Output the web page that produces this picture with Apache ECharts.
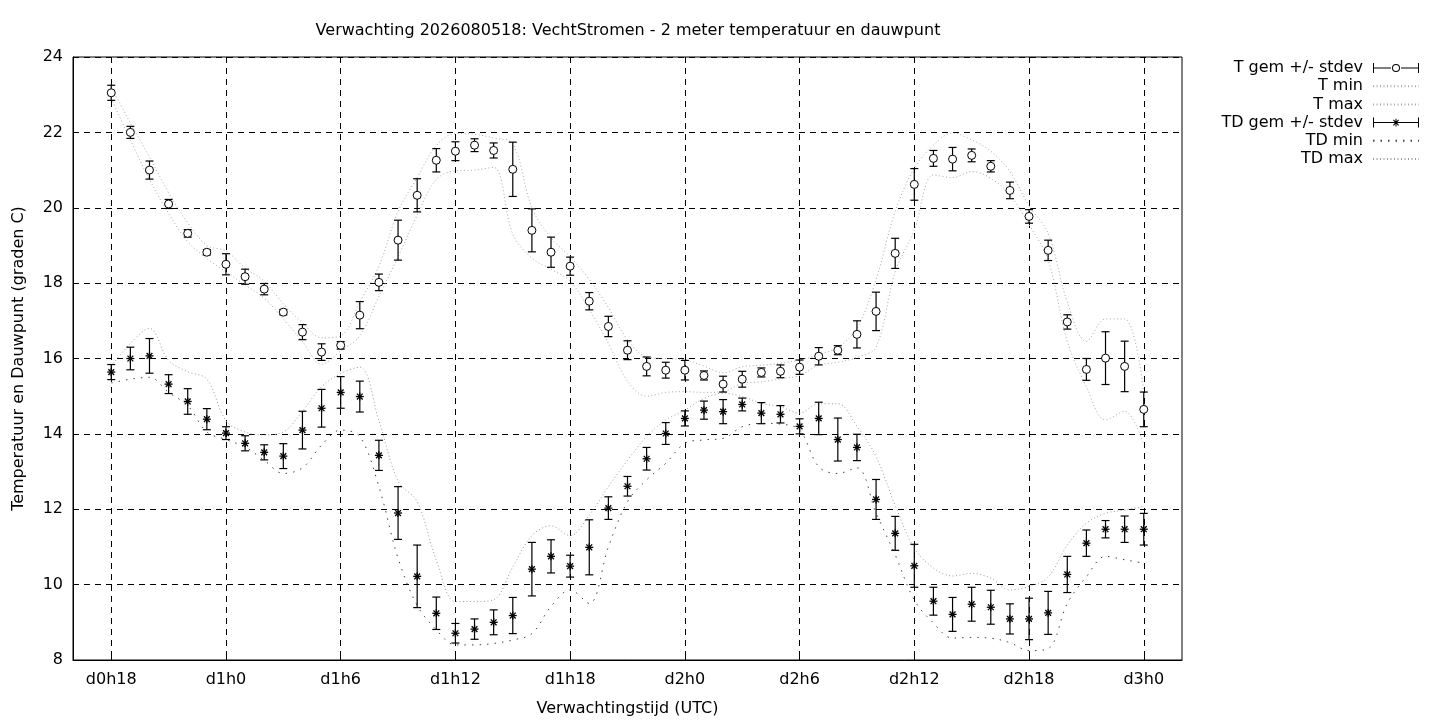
<!DOCTYPE html>
<html>
<head>
<meta charset="utf-8">
<script src="https://cdn.jsdelivr.net/npm/echarts@6/dist/echarts.min.js"></script>
<style>
html,body{margin:0;padding:0;background:#fff;}
#chart{width:1440px;height:720px;}
</style>
</head>
<body>
<div id="chart"></div>
<script>
// ---- data ----
const times = ['d0h18','d0h19','d0h20','d0h21','d0h22','d0h23',
  'd1h0','d1h1','d1h2','d1h3','d1h4','d1h5','d1h6','d1h7','d1h8','d1h9','d1h10','d1h11',
  'd1h12','d1h13','d1h14','d1h15','d1h16','d1h17','d1h18','d1h19','d1h20','d1h21','d1h22','d1h23',
  'd2h0','d2h1','d2h2','d2h3','d2h4','d2h5','d2h6','d2h7','d2h8','d2h9','d2h10','d2h11',
  'd2h12','d2h13','d2h14','d2h15','d2h16','d2h17','d2h18','d2h19','d2h20','d2h21','d2h22','d2h23',
  'd3h0'];
const tickLabels = ['d0h18','d1h0','d1h6','d1h12','d1h18','d2h0','d2h6','d2h12','d2h18','d3h0'];

const T_mean = [23.05,22.0,21.0,20.1,19.32,18.82,18.5,18.17,17.84,17.23,16.7,16.17,16.35,17.15,18.02,19.14,20.33,21.26,21.5,21.66,21.52,21.02,19.4,18.82,18.45,17.52,16.85,16.22,15.79,15.69,15.69,15.55,15.32,15.45,15.63,15.66,15.77,16.06,16.22,16.64,17.25,18.79,20.62,21.31,21.29,21.39,21.10,20.46,19.77,18.87,16.97,15.71,16.01,15.79,14.65];
const T_std = [0.2,0.16,0.24,0.12,0.1,0.07,0.28,0.2,0.15,0.07,0.2,0.22,0.1,0.36,0.22,0.53,0.44,0.31,0.25,0.17,0.2,0.72,0.57,0.4,0.24,0.23,0.27,0.25,0.25,0.21,0.26,0.12,0.21,0.21,0.12,0.17,0.19,0.23,0.12,0.36,0.51,0.4,0.42,0.21,0.31,0.17,0.15,0.22,0.18,0.27,0.19,0.29,0.7,0.67,0.46];
const T_min = [22.9,21.8,20.75,19.85,19.1,18.65,18.3,17.95,17.6,17.05,16.45,15.85,16.2,16.6,17.65,18.7,19.8,20.75,20.98,21.0,21.07,19.3,18.66,18.37,18.05,17.3,16.4,15.4,15.0,15.1,15.12,15.1,15.12,15.34,15.38,15.46,15.55,15.82,15.9,16.03,16.3,18.3,19.4,20.87,20.8,20.96,20.78,20.34,19.55,18.61,16.45,15.25,14.37,14.6,13.7];
const T_max = [23.2,22.25,21.35,20.4,19.6,19.0,18.85,18.4,18.05,17.45,16.95,16.55,16.6,17.5,18.45,19.9,20.8,21.65,21.97,21.95,21.85,21.7,20.0,19.2,18.7,18.1,17.35,16.5,16.04,16.0,15.96,15.8,15.62,15.78,15.82,15.87,15.96,16.1,16.3,16.8,18.1,19.9,21.05,21.66,21.98,21.8,21.5,20.96,20.05,19.32,17.5,16.45,17.05,17.05,15.1];

const TD_mean = [15.64,16.0,16.07,15.32,14.86,14.39,14.02,13.75,13.51,13.41,14.1,14.68,15.1,14.99,13.43,11.9,10.22,9.24,8.71,8.82,9.0,9.18,10.41,10.75,10.49,10.99,12.03,12.61,13.34,14.01,14.41,14.63,14.59,14.78,14.55,14.52,14.2,14.41,13.85,13.64,12.26,11.36,10.5,9.56,9.21,9.48,9.40,9.09,9.09,9.25,10.27,11.10,11.47,11.47,11.47];
const TD_std = [0.2,0.3,0.46,0.25,0.34,0.28,0.17,0.2,0.2,0.33,0.5,0.5,0.42,0.41,0.4,0.7,0.83,0.43,0.26,0.27,0.33,0.48,0.71,0.44,0.29,0.73,0.3,0.26,0.3,0.29,0.2,0.24,0.32,0.17,0.28,0.23,0.2,0.43,0.57,0.35,0.53,0.45,0.57,0.37,0.45,0.45,0.45,0.4,0.55,0.57,0.48,0.35,0.23,0.35,0.42];
const TD_min = [15.35,15.45,15.5,15.1,14.75,14.05,13.85,13.65,13.3,12.95,13.1,13.7,14.1,13.93,12.6,10.7,9.45,8.8,8.4,8.4,8.44,8.53,8.7,9.42,9.86,9.5,11.0,12.2,12.78,13.22,13.75,13.84,13.88,14.19,14.28,14.26,14.1,13.13,12.95,13.1,11.9,10.79,9.59,8.98,8.58,8.6,8.58,8.46,8.25,8.3,9.5,10.21,10.75,10.66,10.57];
const TD_max = [15.8,16.4,16.8,15.95,15.65,15.45,14.35,14.05,13.97,14.05,14.6,15.25,15.6,15.77,14.35,12.75,12.2,10.65,9.55,9.55,9.6,10.47,11.3,11.56,11.3,11.85,12.6,13.3,13.93,14.37,14.63,14.94,15.08,14.99,14.81,14.72,14.55,14.8,14.8,14.2,13.4,12.1,10.97,10.44,10.23,10.3,10.17,9.86,9.95,10.2,11.05,11.63,11.89,11.98,12.07];

// ---- helpers ----
function labelToHour(s){ const m = /^d(\d+)h(\d+)$/.exec(s); return (+m[1])*24 + (+m[2]); }
const hours = times.map(labelToHour);
const tickHours = tickLabels.map(labelToHour);
const pairs = arr => arr.map((v,i)=>[hours[i], v]);
const triples = (m, s) => m.map((v,i)=>[hours[i], v, s[i]]);

const FONT = 'DejaVu Sans';
const FS = 16;

function errRender(kind){
  return function(params, api){
    const x = api.value(0), m = api.value(1), s = api.value(2);
    const c = api.coord([x, m]);
    const t = api.coord([x, m + s]);
    const b = api.coord([x, m - s]);
    const cap = 4, st = {stroke:'#000', lineWidth:1.2};
    const ch = [
      {type:'line', shape:{x1:c[0], y1:t[1], x2:c[0], y2:b[1]}, style:st},
      {type:'line', shape:{x1:c[0]-cap, y1:t[1], x2:c[0]+cap, y2:t[1]}, style:st},
      {type:'line', shape:{x1:c[0]-cap, y1:b[1], x2:c[0]+cap, y2:b[1]}, style:st}
    ];
    if (kind === 'circle') {
      ch.push({type:'circle', shape:{cx:c[0], cy:c[1], r:4}, style:{fill:'#fff', stroke:'#000', lineWidth:1}});
    } else {
      const r = 4, d = 2.9, as = {stroke:'#000', lineWidth:1.3};
      ch.push({type:'line', shape:{x1:c[0]-r, y1:c[1], x2:c[0]+r, y2:c[1]}, style:as});
      ch.push({type:'line', shape:{x1:c[0], y1:c[1]-r, x2:c[0], y2:c[1]+r}, style:as});
      ch.push({type:'line', shape:{x1:c[0]-d, y1:c[1]-d, x2:c[0]+d, y2:c[1]+d}, style:as});
      ch.push({type:'line', shape:{x1:c[0]-d, y1:c[1]+d, x2:c[0]+d, y2:c[1]-d}, style:as});
    }
    return {type:'group', children: ch};
  };
}

const ICON_T = 'path://M0,0h1v10h-1z M1,4.5h17v1h-17z M19,5A4,4 0 1,1 27,5A4,4 0 1,1 19,5Z M20,5A3,3 0 1,0 26,5A3,3 0 1,0 20,5Z M28,4.5h17v1h-17z M45,0h1v10h-1z';
const ICON_TD = 'path://M0,0h1v10h-1z M1,4.5h44v1h-44z M22.5,1.2h1v7.6h-1z M20,2.6L20.7,1.9L26,7.4L25.3,8.1Z M25.3,1.9L26,2.6L20.7,8.1L20,7.4Z M45,0h1v10h-1z';

const C_T = '#a8a8a8', C_TDmin = '#444', C_TDmax = '#9a9a9a';

function minmaxSeries(name, data, color, dash){
  return {name, type:'line', data: pairs(data), smooth:0.35, symbol:'none',
    lineStyle:{color, width:1, type:dash}, itemStyle:{color}, z:2, silent:true};
}

const chart = echarts.init(document.getElementById('chart'), null, {renderer:'canvas'});
chart.setOption({
  animation:false,
  backgroundColor:'#fff',
  textStyle:{fontFamily:FONT},
  title:{
    text:'Verwachting 2026080518: VechtStromen - 2 meter temperatuur en dauwpunt',
    left:628, top:23, textAlign:'center', padding:0,
    textStyle:{fontFamily:FONT, fontSize:FS, fontWeight:'normal', color:'#000'}
  },
  legend:{
    orient:'vertical', right:15, top:55, align:'right',
    itemWidth:46, itemHeight:10, itemGap:2.2,
    textStyle:{fontFamily:FONT, fontSize:FS, color:'#000', padding:[0,5,0,0]},
    data:[
      {name:'T gem +/- stdev', icon:ICON_T, itemStyle:{color:'#000', borderWidth:0}},
      {name:'T min', itemStyle:{opacity:0}},
      {name:'T max', itemStyle:{opacity:0}},
      {name:'TD gem +/- stdev', icon:ICON_TD, itemStyle:{color:'#000', borderWidth:0}},
      {name:'TD min', itemStyle:{opacity:0}},
      {name:'TD max', itemStyle:{opacity:0}}
    ],
    selectedMode:false
  },
  grid:{left:73, right:258, top:57, bottom:60, outerBoundsMode:'none', containLabel:false,
    show:true, borderColor:'#000', borderWidth:1, backgroundColor:'transparent'},
  xAxis:{
    type:'value', min:16, max:74,
    name:'Verwachtingstijd (UTC)', nameLocation:'middle', nameGap:41,
    nameTextStyle:{fontFamily:FONT, fontSize:FS, color:'#000'},
    axisLine:{show:true, lineStyle:{color:'#000', width:1}},
    axisTick:{show:true, inside:true, length:6, customValues:tickHours, lineStyle:{color:'#000'}},
    axisLabel:{customValues:tickHours, margin:12, fontFamily:FONT, fontSize:FS, color:'#000',
      formatter: v => tickLabels[tickHours.indexOf(v)] || ''},
    splitLine:{show:true, lineStyle:{color:'#000', width:1, type:[6,5]}}
  },
  yAxis:{
    type:'value', min:8, max:24, interval:2,
    name:'Temperatuur en Dauwpunt (graden C)', nameLocation:'middle', nameGap:46,
    nameTextStyle:{fontFamily:FONT, fontSize:FS, color:'#000'},
    axisLine:{show:true, lineStyle:{color:'#000', width:1}},
    axisTick:{show:true, inside:true, length:6, lineStyle:{color:'#000'}},
    axisLabel:{margin:10, fontFamily:FONT, fontSize:FS, color:'#000'},
    splitLine:{show:true, lineStyle:{color:'#000', width:1, type:[6,5]}}
  },
  series:[
    {name:'T gem +/- stdev', type:'custom', renderItem:errRender('circle'), data:triples(T_mean, T_std),
      encode:{x:0, y:1}, itemStyle:{color:'#000'}, z:5, silent:true},
    minmaxSeries('T min', T_min, C_T, [1,2.5]),
    minmaxSeries('T max', T_max, C_T, [1,2.5]),
    {name:'TD gem +/- stdev', type:'custom', renderItem:errRender('star'), data:triples(TD_mean, TD_std),
      encode:{x:0, y:1}, itemStyle:{color:'#000'}, z:5, silent:true},
    minmaxSeries('TD min', TD_min, C_TDmin, [1.5,6]),
    minmaxSeries('TD max', TD_max, C_TDmax, [1,2.5])
  ]
});
</script>
</body>
</html>
